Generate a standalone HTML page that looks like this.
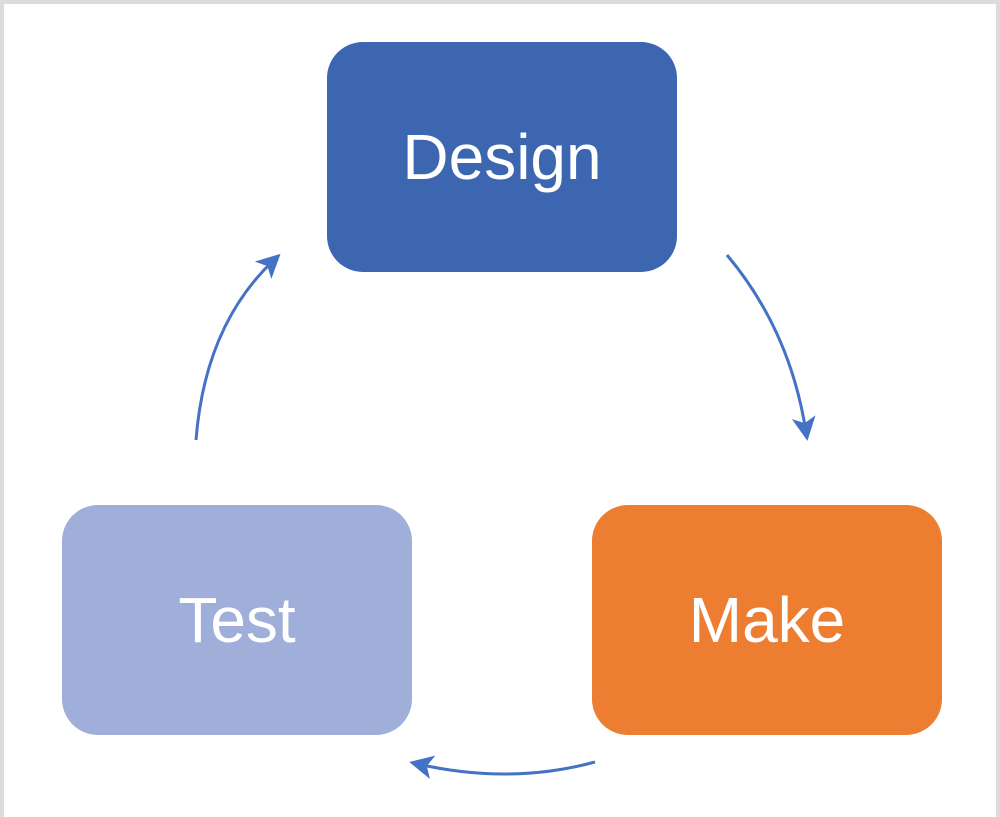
<!DOCTYPE html>
<html><head><style>
html,body{margin:0;padding:0;background:#fff;}
.wrap{position:relative;width:1000px;height:817px;overflow:hidden;background:#fff;}
.box{position:absolute;width:350px;height:230px;border-radius:36px;color:#fff;font-family:"Liberation Sans",sans-serif;font-size:64px;display:flex;align-items:center;justify-content:center;}
</style></head><body><div class="wrap">
<div style="position:absolute;left:0;top:0;width:1000px;height:4px;background:#dcdcdc"></div>
<div style="position:absolute;left:0;top:0;width:4px;height:817px;background:#dcdcdc"></div>
<div style="position:absolute;left:996px;top:0;width:4px;height:817px;background:#dcdcdc"></div>
<div class="box" style="left:327px;top:42px;background:#3c66b0">Design</div>
<div class="box" style="left:592px;top:505px;background:#ed7d31">Make</div>
<div class="box" style="left:62px;top:505px;background:#9fafd9">Test</div>
<svg width="1000" height="817" style="position:absolute;left:0;top:0">
<defs><marker id="a" markerWidth="8" markerHeight="8" refX="5" refY="4" orient="auto" markerUnits="strokeWidth"><path d="M0,0 L8,4 L0,8 L2,4 Z" fill="#4472c4"/></marker></defs>
<g fill="none" stroke="#4472c4" stroke-width="3">
<path d="M727,255 Q790,330 806,432" marker-end="url(#a)"/>
<path d="M595,762 Q510,785 418,764" marker-end="url(#a)"/>
<path d="M196,440 Q205,325 274,260" marker-end="url(#a)"/>
</g></svg>
</div></body></html>
